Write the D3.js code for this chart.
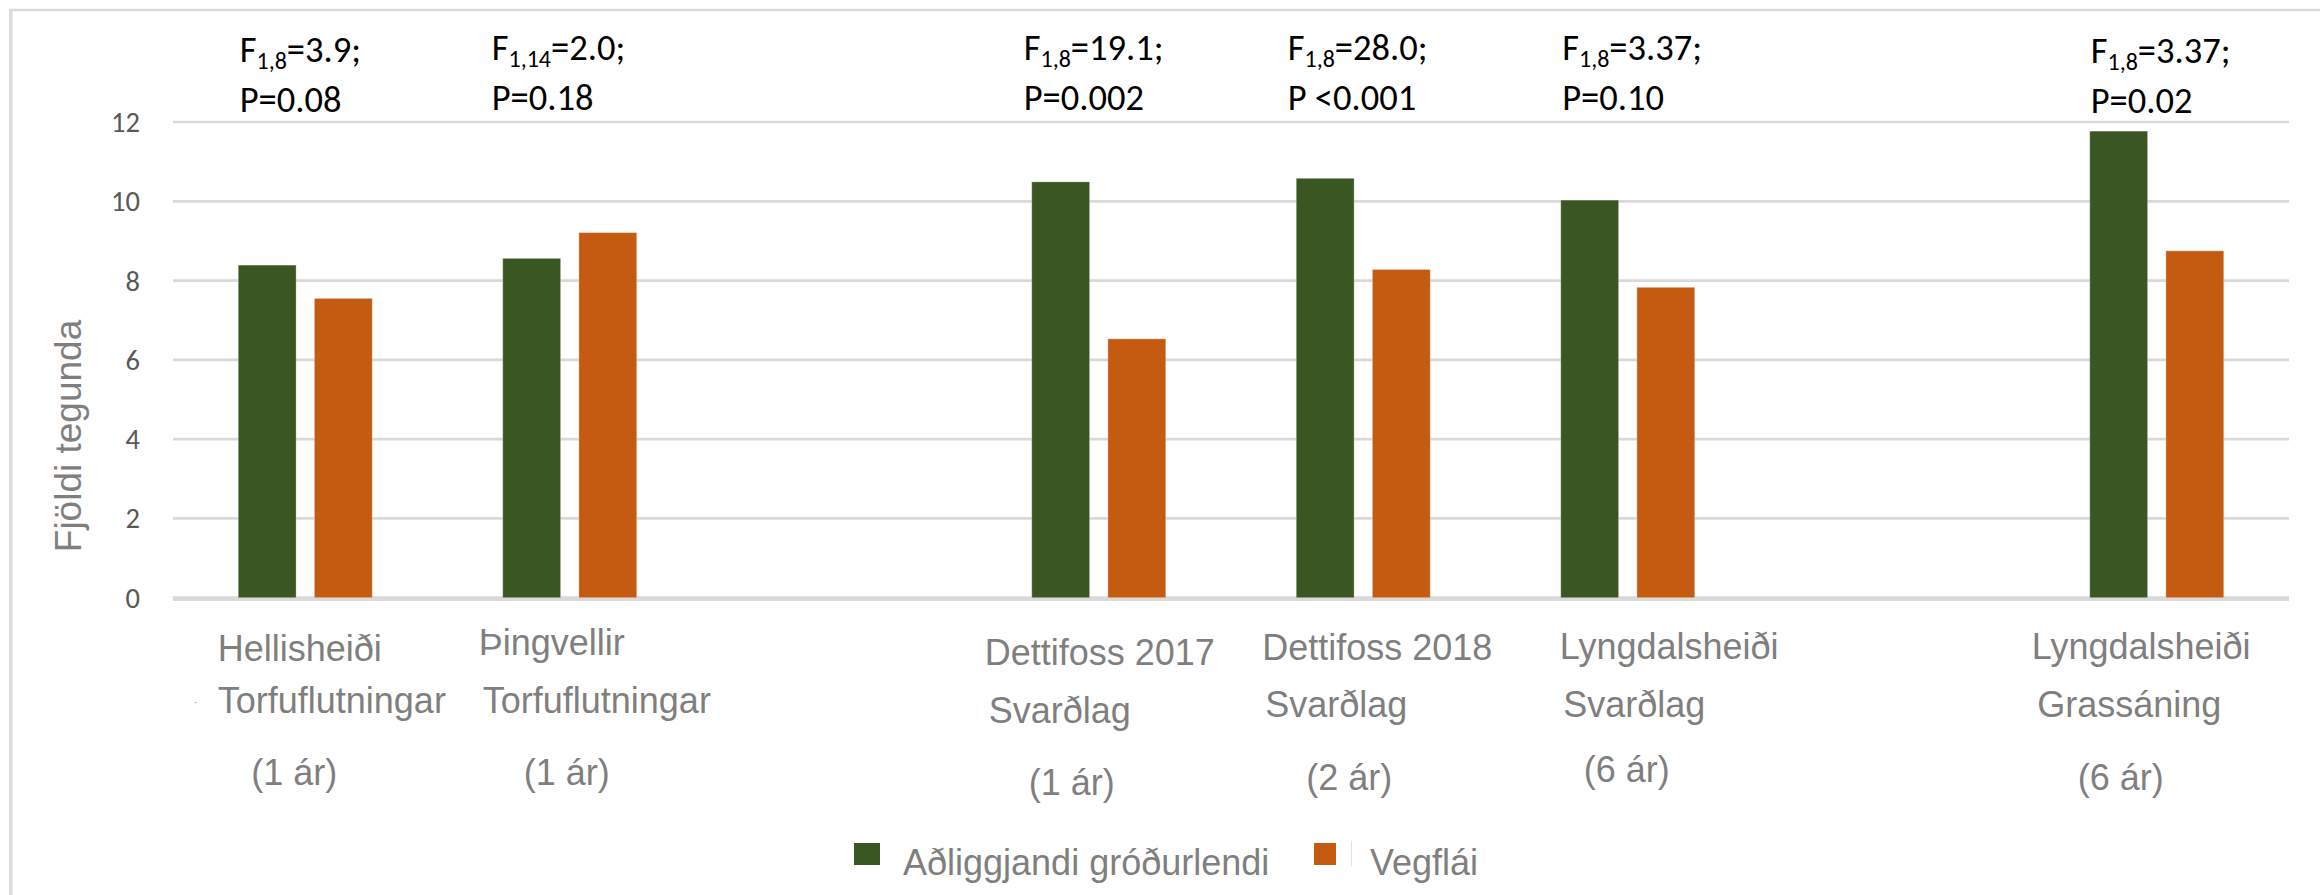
<!DOCTYPE html>
<html>
<head>
<meta charset="utf-8">
<script src="https://cdn.jsdelivr.net/npm/d3@7"></script>
<style>
  html, body { margin: 0; padding: 0; background: #ffffff; }
  svg { display: block; }
</style>
</head>
<body>
<div id="chart"></div>
<script>
// ---------------- DATA ----------------
const categories = ["c1", "c2", "gap1", "c3", "c4", "c5", "gap2", "c6"];
const labelLine1 = ["Hellisheiði", "Þingvellir", "", "Dettifoss 2017", "Dettifoss 2018", "Lyngdalsheiði", "", "Lyngdalsheiði"];
const labelLine2 = ["Torfuflutningar", "Torfuflutningar", "", "Svarðlag", "Svarðlag", "Svarðlag", "", "Grassáning"];
const labelLine3 = ["(1 ár)", "(1 ár)", "", "(1 ár)", "(2 ár)", "(6 ár)", "", "(6 ár)"];
const seriesNames = ["Aðliggjandi gróðurlendi", "Vegflái"];
const valuesAdjacent = [8.39, 8.56, null, 10.49, 10.58, 10.03, null, 11.77];
const valuesRoadside = [7.55, 9.21, null, 6.53, 8.28, 7.83, null, 8.75];
const statF = ["1,8", "1,14", null, "1,8", "1,8", "1,8", null, "1,8"];
const statFValue = ["=3.9;", "=2.0;", null, "=19.1;", "=28.0;", "=3.37;", null, "=3.37;"];
const statP = ["P=0.08", "P=0.18", null, "P=0.002", "P <0.001", "P=0.10", null, "P=0.02"];
const yTicks = [0, 2, 4, 6, 8, 10, 12];
const yTitle = "Fjöldi tegunda";

// ---------------- LAYOUT / STYLE ----------------
const W = 2320, H = 895;
const colors = ["#3a5723", "#c55a11"];
const plot = { left: 173, right: 2289, top: 122, bottom: 597.7 };
// per-category label offsets (from band centre) and baselines
const labelLayout = [
  { dx1: -87.5, dx2: -87.5, dx3: -11, y1: 661, y2: 713, y3: 785 },
  { dx1: -91,   dx2: -87,   dx3: -3,  y1: 655, y2: 713, y3: 785 },
  null,
  { dx1: -114,  dx2: -110,  dx3: -27, y1: 665, y2: 723, y3: 795 },
  { dx1: -101,  dx2: -98,   dx3: -14, y1: 660, y2: 717, y3: 790 },
  { dx1: -68,   dx2: -64.5, dx3: -1,  y1: 659, y2: 717, y3: 782 },
  null,
  { dx1: -125,  dx2: -119.5, dx3: -36, y1: 659, y2: 717, y3: 790 }
];
const annotLayout = [
  { dx: -65.5, y1: 61.5, y2: 111.5 },
  { dx: -78,   y1: 60,   y2: 110 },
  null,
  { dx: -75,   y1: 60,   y2: 110 },
  { dx: -75.5, y1: 60,   y2: 110 },
  { dx: -65.5, y1: 60,   y2: 110 },
  null,
  { dx: -66,   y1: 63,   y2: 113 }
];

const svg = d3.select("#chart").append("svg")
  .attr("width", W).attr("height", H)
  .style("font-family", "'Liberation Sans', Arial, sans-serif");

// chart border (top + left visible)
svg.append("line").attr("x1", 9).attr("x2", W).attr("y1", 10).attr("y2", 10)
  .attr("stroke", "#d9d9d9").attr("stroke-width", 2.5);
svg.append("line").attr("x1", 10.8).attr("x2", 10.8).attr("y1", 9).attr("y2", H)
  .attr("stroke", "#dcdcdc").attr("stroke-width", 3.5);

const x = d3.scaleBand().domain(categories).range([plot.left, plot.right]).padding(0);
const y = d3.scaleLinear().domain([0, 12]).range([plot.bottom, plot.top]);
const xi = d3.scaleBand().domain([0, 1]).range([-67, 67]).paddingInner(0.24);
const cx = c => x(c) + x.bandwidth() / 2;

// gridlines
svg.append("g").selectAll("line").data(yTicks).join("line")
  .attr("x1", plot.left).attr("x2", plot.right)
  .attr("y1", d => y(d)).attr("y2", d => y(d))
  .attr("stroke", "#d9d9d9").attr("stroke-width", 2.7);

// y tick labels
svg.append("g").selectAll("text").data(yTicks).join("text")
  .attr("x", 140).attr("y", d => y(d) + 10)
  .attr("text-anchor", "end")
  .style("font-family", "Carlito, Calibri, Lato, sans-serif")
  .style("font-size", "28.5px").attr("fill", "#595959")
  .text(d => d);

// y axis title
svg.append("text")
  .attr("transform", "translate(81,436) rotate(-90)")
  .attr("text-anchor", "middle")
  .style("font-size", "37px").attr("fill", "#7f7f7f")
  .text(yTitle);

// bars
const series = [valuesAdjacent, valuesRoadside];
series.forEach((vals, si) => {
  const rows = categories.map((c, i) => ({ c, v: vals[i] })).filter(d => d.v != null);
  svg.append("g").selectAll("rect").data(rows).join("rect")
    .attr("x", d => cx(d.c) + xi(si))
    .attr("width", xi.bandwidth())
    .attr("y", d => y(d.v))
    .attr("height", d => y(0) - y(d.v))
    .attr("fill", colors[si])
    .attr("stroke", "rgba(255,255,255,0.3)").attr("stroke-width", 1);
});

// redraw baseline over bars
svg.append("line").attr("x1", plot.left).attr("x2", plot.right)
  .attr("y1", y(0) + 2).attr("y2", y(0) + 2)
  .attr("stroke", "#d9d9d9").attr("stroke-width", 2.7);

// category labels
const labG = svg.append("g").style("font-size", "36px").attr("fill", "#7f7f7f");
categories.forEach((c, i) => {
  const L = labelLayout[i];
  if (!L) return;
  labG.append("text").attr("x", cx(c) + L.dx1).attr("y", L.y1).text(labelLine1[i]);
  labG.append("text").attr("x", cx(c) + L.dx2).attr("y", L.y2).text(labelLine2[i]);
  labG.append("text").attr("x", cx(c) + L.dx3).attr("y", L.y3)
    .attr("text-anchor", "middle").text(labelLine3[i]);
});
// small stray mark near first label
labG.append("text").attr("x", 194).attr("y", 706).style("font-size", "10px").text("·");

// statistics annotations
const annG = svg.append("g")
  .style("font-family", "Carlito, Calibri, Lato, sans-serif")
  .style("font-size", "36.5px").attr("fill", "#000000");
categories.forEach((c, i) => {
  const A = annotLayout[i];
  if (!A) return;
  const t = annG.append("text").attr("x", cx(c) + A.dx).attr("y", A.y1);
  t.append("tspan").text("F");
  t.append("tspan").attr("dy", 7).style("font-size", "24px").text(statF[i]);
  t.append("tspan").attr("dy", -7).text(statFValue[i]);
  annG.append("text").attr("x", cx(c) + A.dx).attr("y", A.y2).text(statP[i]);
});

// legend
const leg = svg.append("g").style("font-size", "36px").attr("fill", "#7f7f7f");
leg.append("rect").attr("x", 854).attr("y", 843).attr("width", 26).attr("height", 22).attr("fill", colors[0]);
leg.append("text").attr("x", 903).attr("y", 875).text(seriesNames[0]);
leg.append("rect").attr("x", 1314).attr("y", 843).attr("width", 22).attr("height", 22).attr("fill", colors[1]);
leg.append("line").attr("x1", 1351.5).attr("x2", 1351.5).attr("y1", 841).attr("y2", 866)
  .attr("stroke", "#e3e3e3").attr("stroke-width", 1);
leg.append("text").attr("x", 1370).attr("y", 875).text(seriesNames[1]);
</script>
</body>
</html>
